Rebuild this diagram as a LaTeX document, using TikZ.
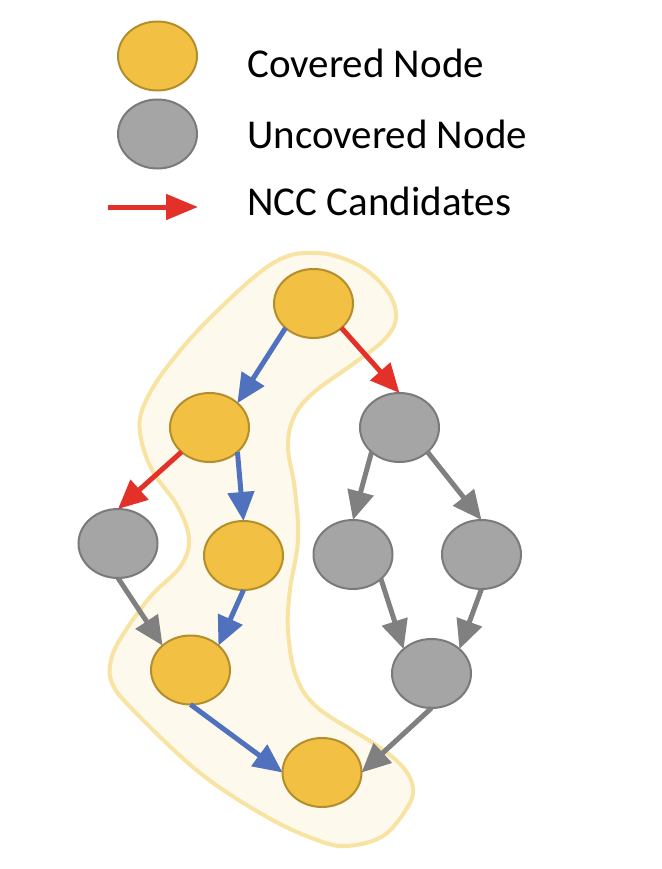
\documentclass[tikz,border=0pt]{standalone}
\usepackage{fontspec}
\setmainfont{Carlito}
\usetikzlibrary{shapes.geometric,arrows.meta}
\definecolor{covfill}{HTML}{F2C143}
\definecolor{covdraw}{HTML}{B48E2C}
\definecolor{uncfill}{HTML}{A5A5A5}
\definecolor{uncdraw}{HTML}{7A7A7A}
\definecolor{bluearr}{HTML}{4F71BE}
\definecolor{redarr}{HTML}{E3312A}
\definecolor{grayarr}{HTML}{808080}
\definecolor{blobfill}{HTML}{FDF9EC}
\definecolor{blobline}{HTML}{F8E3A3}
\tikzset{
  base/.style={ellipse, line width=2pt, minimum width=79pt, minimum height=69pt, inner sep=0pt, outer sep=0pt},
  covered/.style={base, fill=covfill, draw=covdraw},
  uncovered/.style={base, fill=uncfill, draw=uncdraw},
  arr/.style={line width=5pt, -{Triangle[length=29pt,width=26pt]}},
  bluea/.style={arr, draw=bluearr, fill=bluearr},
  reda/.style={arr, draw=redarr, fill=redarr},
  graya/.style={arr, draw=grayarr, fill=grayarr},
  legarr/.style={line width=5pt, draw=redarr, fill=redarr, -{Triangle[length=32pt,width=25pt]}},
  legtext/.style={anchor=base west, inner sep=0pt, font=\fontsize{41}{49}\selectfont}
}
\begin{document}
\begin{tikzpicture}[x=1pt,y=-1pt]
\useasboundingbox (0,0) rectangle (661,869);
% blob
\draw[line width=4pt, draw=blobline, fill=blobfill] plot[smooth cycle, tension=0.6] coordinates {
(318,253) (360,266) (388,292) (396,318) (384,340) (353,364) (313,393) (294,417) (288,447) (295,490) (298,540) (290,590) (288,630) (296,676) (318,708) (373,743) (402,766) (413,788) (407,808) (383,836) (347,846) (317,840) (267,817) (200,773) (133,710) (112,683) (111,660) (122,636) (150,597) (180,567) (189,540) (178,507) (152,470) (140,433) (144,405) (167,367) (210,318) (273,263)};
% legend
\node[covered] (lc) at (157.5,56) {};
\node[uncovered] (lu) at (157.5,134) {};
\coordinate (la1) at (108,207);
\coordinate (la2) at (198,207);
\draw[legarr] (la1) -- (la2);
\node[legtext] (t1) at (247,77.3) {Covered Node};
\node[legtext] (t2) at (247,148.3) {Uncovered Node};
\node[legtext] (t3) at (247,215) {NCC Candidates};
% nodes
\node[covered] (A) at (313.5,303.5) {};
\node[covered] (B) at (209.5,427.5) {};
\node[uncovered] (C) at (399.5,427.5) {};
\node[uncovered] (D) at (118,543.5) {};
\node[covered] (E) at (243.5,555.5) {};
\node[uncovered] (F) at (353,554.5) {};
\node[uncovered] (G) at (481.5,554.5) {};
\node[covered] (H) at (190.5,670) {};
\node[uncovered] (I) at (431.5,673.5) {};
\node[covered] (J) at (322,772.5) {};
% edges
\draw[bluea] (A.south west) -- (B.north east);
\draw[reda] (A.south east) -- (C.north);
\draw[reda] (B.south west) -- (D.north);
\draw[bluea] (B.south east) -- (E.north);
\draw[graya] (D.south) -- (H.north west);
\draw[bluea] (E.south) -- (H.north east);
\draw[bluea] (H.south) -- (J.west);
\draw[graya] (C.south west) -- (F.north);
\draw[graya] (C.south east) -- (G.north);
\draw[graya] (F.south east) -- (I.north west);
\draw[graya] (G.south) -- (I.north east);
\draw[graya] (I.south) -- (J.east);
\end{tikzpicture}
\end{document}
